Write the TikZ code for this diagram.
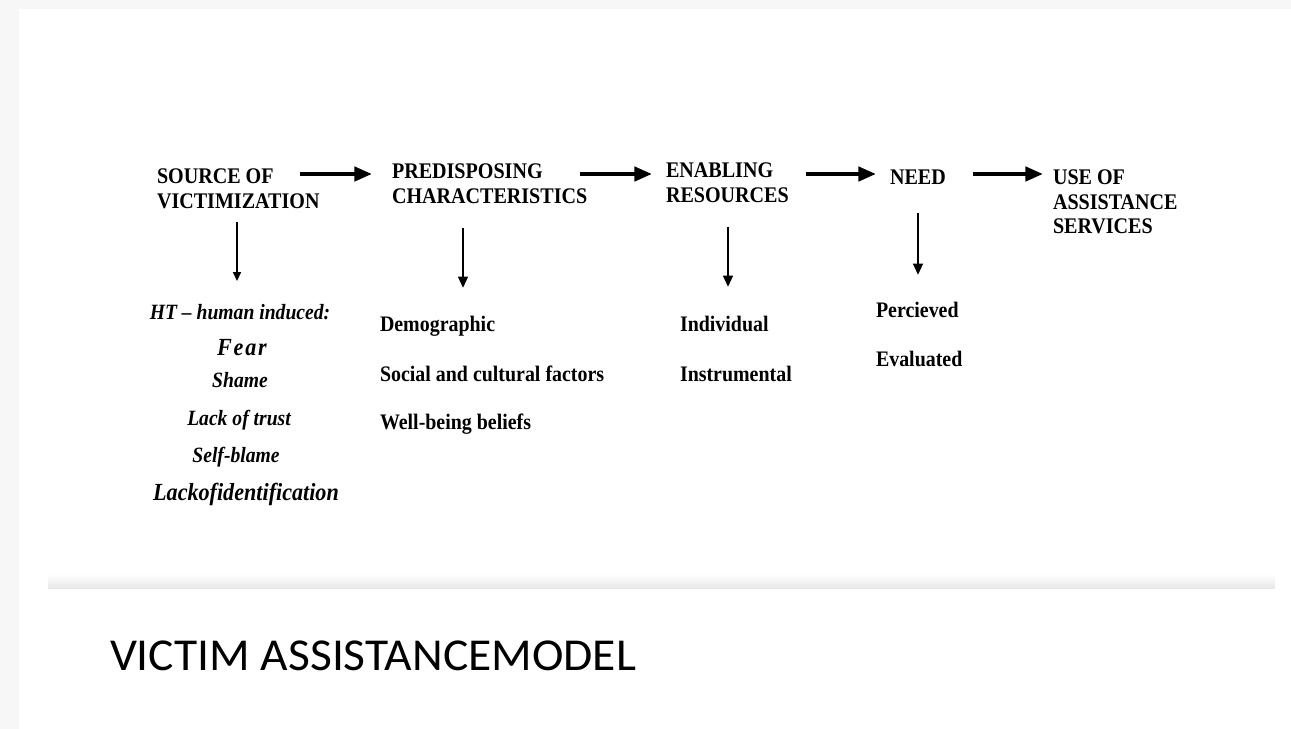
\documentclass[tikz,border=0pt]{standalone}
\usepackage{fontspec}
\setmainfont{Liberation Serif}
\newfontfamily\hfont{Liberation Serif}[FakeStretch=0.9]
\newfontfamily\bifont{Liberation Serif Bold Italic}[FakeStretch=0.9]
\newfontfamily\tfont{Carlito}[FakeStretch=1.04]
\usetikzlibrary{arrows.meta}
\begin{document}
\begin{tikzpicture}[x=0.02cm,y=-0.02cm,
  every node/.style={inner sep=0pt, outer sep=0pt, text=black},
  head/.style={anchor=north west, align=left, font=\hfont\bfseries\fontsize{12.7pt}{13.9pt}\selectfont},
  item/.style={anchor=base west, font=\hfont\bfseries\fontsize{12.6pt}{14pt}\selectfont},
  emo/.style={anchor=base, font=\bifont\fontsize{12.4pt}{14pt}\selectfont},
  bigemo/.style={anchor=base, font=\bifont\fontsize{14pt}{16pt}\selectfont},
  flow/.style={line width=2.3pt, -{Triangle[length=10pt,width=8pt]}},
  down/.style={line width=1.4pt, -{Triangle[length=6.5pt,width=5.5pt]}},
  thindown/.style={line width=0.8pt, -{Triangle[length=5pt,width=4.5pt]}},
]
\useasboundingbox (0,0) rectangle (1291,729);
% slide background
\fill[white] (0,0) rectangle (1291,729);
\fill[black!3] (0,0) rectangle (1291,9);
\fill[black!3] (0,0) rectangle (19,729);
\shade[top color=white, bottom color=black!9] (48,574) rectangle (1275,588);

% headings
\node[head] (src)  at (157,169) {SOURCE OF\\VICTIMIZATION};
\node[head] (pre)  at (392,164) {PREDISPOSING\\CHARACTERISTICS};
\node[head] (ena)  at (666,163) {ENABLING\\RESOURCES};
\node[head] (need) at (890,170) {NEED};
\node[head] (use)  at (1053,170) {USE OF\\ASSISTANCE\\SERVICES};

% flow arrows
\coordinate (f1a) at (300,174); \coordinate (f1b) at (372,174);
\coordinate (f2a) at (580,174); \coordinate (f2b) at (652,174);
\coordinate (f3a) at (806,174); \coordinate (f3b) at (876,174);
\coordinate (f4a) at (973,174); \coordinate (f4b) at (1043,174);
\draw[flow] (f1a) -- (f1b);
\draw[flow] (f2a) -- (f2b);
\draw[flow] (f3a) -- (f3b);
\draw[flow] (f4a) -- (f4b);

% down arrows
\coordinate (d1a) at (237,222); \coordinate (d1b) at (237,281);
\coordinate (d2a) at (463,228); \coordinate (d2b) at (463,288);
\coordinate (d3a) at (728,227); \coordinate (d3b) at (728,287);
\coordinate (d4a) at (918,213); \coordinate (d4b) at (918,275);
\draw[thindown] (d1a) -- (d1b);
\draw[down] (d2a) -- (d2b);
\draw[down] (d3a) -- (d3b);
\draw[down] (d4a) -- (d4b);

% source of victimization items
\node[emo]    (ht)    at (240,320) {HT – human induced:};
\node[bigemo] (fear)  at (242,356) {F\kern1pt e\kern1pt a\kern1pt r};
\node[emo]    (shame) at (240,387) {Shame};
\node[emo]    (trust) at (239,425) {Lack of trust};
\node[emo]    (selfb) at (236,462) {Self-blame};
\node[bigemo] (ident) at (246,500) {Lackofidentification};

% predisposing items
\node[item] (demo) at (380,332) {Demographic};
\node[item] (soc)  at (380,381) {Social and cultural factors};
\node[item] (well) at (380,429) {Well-being beliefs};

% enabling items
\node[item] (indiv) at (680,332) {Individual};
\node[item] (instr) at (680,381) {Instrumental};

% need items
\node[item] (perc) at (876,318) {Percieved};
\node[item] (eval) at (876,367) {Evaluated};

% title
\node[anchor=base west, font=\tfont\fontsize{26pt}{30pt}\selectfont] (title) at (110,670) {VICTIM ASSISTANCEMODEL};
\end{tikzpicture}
\end{document}
